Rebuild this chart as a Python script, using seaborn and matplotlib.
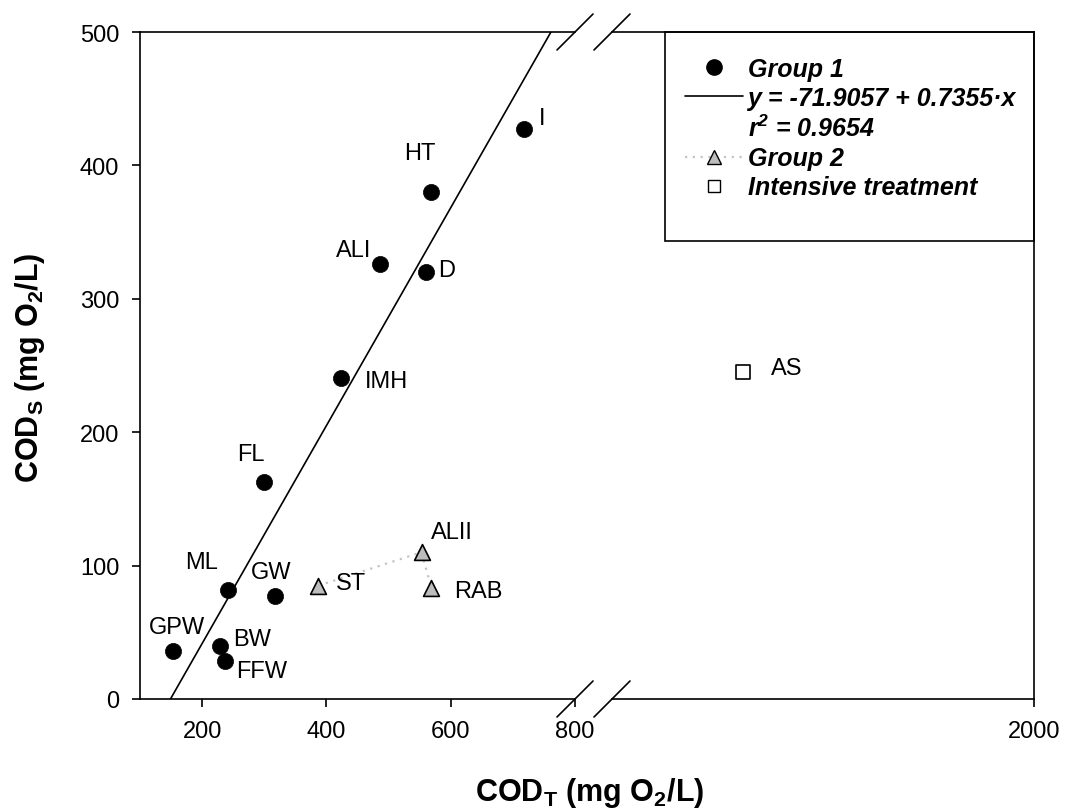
import matplotlib
matplotlib.use("Agg")
import matplotlib.pyplot as plt
from matplotlib.lines import Line2D
from matplotlib.patches import Rectangle
import numpy as np
import pandas as pd
import seaborn as sns

# ---------------- data ----------------
group1_labels = ["GPW", "BW", "FFW", "ML", "GW", "FL", "IMH", "ALI", "D", "HT", "I"]
group1_x = [153, 229, 237, 242, 318, 300, 424, 487, 560, 568, 718]
group1_y = [36, 40, 28.5, 82, 77, 163, 241, 326, 320, 380, 427]

group2_labels = ["ST", "ALII", "RAB"]
group2_x = [387, 553, 569]
group2_y = [85, 110, 83]

intensive_labels = ["AS"]
intensive_x = [1530]
intensive_y = [245]

x_ticks_left = [200, 400, 600, 800]
x_ticks_right = [2000]
y_ticks = [0, 100, 200, 300, 400, 500]

legend_labels = ["Group 1", "y = -71.9057 + 0.7355\u00b7x",
                 r"$\mathbfit{r}^{\mathbfit{2}}$ = 0.9654", "Group 2",
                 "Intensive treatment"]

# label offsets in pixels (layout only)
label_offsets = {
    "I": (18, 11), "HT": (-11, 39), "ALI": (-27, 14), "D": (21, 2),
    "IMH": (45, -3), "FL": (-13, 28), "ML": (-27, 28), "GW": (-4, 24),
    "GPW": (4, 24), "BW": (32, 7), "FFW": (36, -10), "ST": (33, 3),
    "ALII": (30, 20), "RAB": (47, -3), "AS": (44, 4),
}

# ---------------- style ----------------
sns.set_theme(style="ticks")
plt.rcParams["font.family"] = ["Liberation Sans", "DejaVu Sans"]
plt.rcParams["mathtext.fontset"] = "custom"
plt.rcParams["mathtext.rm"] = "Liberation Sans"
plt.rcParams["mathtext.it"] = "Liberation Sans:italic"
plt.rcParams["mathtext.bf"] = "Liberation Sans:bold"
plt.rcParams["mathtext.bfit"] = "Liberation Sans:bold:italic"
for k in ("text.color", "axes.labelcolor", "xtick.color", "ytick.color",
          "axes.edgecolor"):
    plt.rcParams[k] = "black"

W, H = 1076, 812
fig = plt.figure(figsize=(W / 100, H / 100), dpi=100)


def rect(l, r, t, b):
    return [l / W, 1 - b / H, (r - l) / W, (b - t) / H]


ax1 = fig.add_axes(rect(140, 575, 33, 700))
ax2 = fig.add_axes(rect(612, 1034, 33, 700))

df1 = pd.DataFrame({"x": group1_x, "y": group1_y, "label": group1_labels})
df2 = pd.DataFrame({"x": group2_x, "y": group2_y, "label": group2_labels})
df3 = pd.DataFrame({"x": intensive_x, "y": intensive_y, "label": intensive_labels})

# regression line of group 1
coef = np.polyfit(df1["x"], df1["y"], 1)
xl = np.array([(0 - coef[1]) / coef[0], (500 - coef[1]) / coef[0]])
ax1.plot(xl, np.polyval(coef, xl), color="black", lw=1.2, zorder=2)

# group 2 dotted connection
sns.lineplot(data=df2, x="x", y="y", ax=ax1, sort=False, color="#c4c4c4",
             linestyle=(0, (1, 2.5)), lw=1.6, zorder=2)

sns.scatterplot(data=df1, x="x", y="y", ax=ax1, marker="o", s=135,
                color="black", edgecolor="black", linewidth=0.5, zorder=3)
sns.scatterplot(data=df2, x="x", y="y", ax=ax1, marker="^", s=130,
                color="#bdbdbd", edgecolor="black", linewidth=1.2, zorder=3)
sns.scatterplot(data=df3, x="x", y="y", ax=ax2, marker="s", s=95,
                color="white", edgecolor="black", linewidth=1.2, zorder=3)

fs_lab = 17
for df, ax in ((df1, ax1), (df2, ax1), (df3, ax2)):
    for _, r in df.iterrows():
        dx, dy = label_offsets[r["label"]]
        ax.annotate(r["label"], (r["x"], r["y"]), xytext=(dx, dy),
                    textcoords="offset pixels", ha="center", va="center",
                    fontsize=fs_lab, color="black")

# axes formatting
for ax in (ax1, ax2):
    ax.set_ylim(0, 500)
    ax.set_xlabel("")
    ax.set_ylabel("")
    for s in ax.spines.values():
        s.set_linewidth(1.2)
        s.set_color("black")
    ax.tick_params(direction="out", length=6, width=1.2, labelsize=17,
                   colors="black", pad=9)

ax1.set_xlim(100, 800)
ax1.set_xticks(x_ticks_left)
ax1.set_yticks(y_ticks)
ax1.spines["right"].set_visible(False)

ax2.set_xlim(1319, 2000)
ax2.set_xticks(x_ticks_right)
ax2.set_yticks([])
ax2.spines["left"].set_visible(False)
ax2.tick_params(left=False, labelleft=False)

# break marks
d = 18
for ax, xe, wpx in ((ax1, 1.0, 435), (ax2, 0.0, 422)):
    for ye in (0.0, 1.0):
        ax.plot([xe - d / wpx, xe + d / wpx], [ye - d / 667, ye + d / 667],
                transform=ax.transAxes, color="black", lw=1.2, clip_on=False)

# axis labels
fig.text(590 / W, 1 - 793 / H, r"COD$_{\mathbf{T}}$ (mg O$_{\mathbf{2}}$/L)",
         ha="center", va="center", fontsize=22, fontweight="bold")
fig.text(30 / W, 1 - 368 / H, r"COD$_{\mathbf{S}}$ (mg O$_{\mathbf{2}}$/L)",
         ha="center", va="center", rotation=90, fontsize=22, fontweight="bold")

# legend
handles = [
    Line2D([], [], marker="o", color="black", ls="none", ms=11),
    Line2D([], [], color="black", lw=1.2),
    Line2D([], [], ls="none"),
    Line2D([], [], marker="^", color="#c4c4c4", ls=(0, (1, 2.5)), lw=1.6,
           markerfacecolor="#bdbdbd", markeredgecolor="black", ms=10),
    Line2D([], [], marker="s", color="black", ls="none", ms=9,
           markerfacecolor="white", markeredgecolor="black"),
]
fig.add_artist(Rectangle((665 / W, 1 - 242 / H), (1034 - 665) / W, 209 / H,
                         transform=fig.transFigure, fill=False,
                         ec="black", lw=1.2))
fig.legend(handles, legend_labels, loc="upper left",
           bbox_to_anchor=(665 / W, 1 - 38 / H), frameon=False,
           prop={"weight": "bold", "style": "italic", "size": 18},
           handlelength=2.3, handletextpad=0.2, labelspacing=0.2,
           borderpad=0.3)

fig.savefig("out.png", dpi=100)
